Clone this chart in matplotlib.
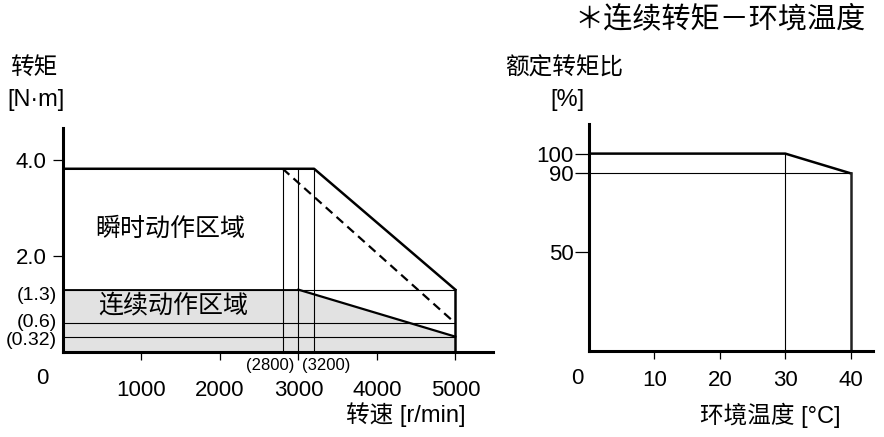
import matplotlib
matplotlib.use("Agg")
import matplotlib.pyplot as plt
from matplotlib.transforms import ScaledTranslation, blended_transform_factory

plt.rcParams['font.family'] = ['Liberation Sans', 'Noto Sans CJK SC']

# ---- data: speed-torque chart ----
peak_speed = [0, 3200, 5000]
peak_torque = [3.82, 3.82, 1.3]
dash_speed = [2800, 5000]
dash_torque = [3.82, 0.6]
cont_speed = [0, 3000, 5000]
cont_torque = [1.3, 1.3, 0.32]
ref_speeds = [2800, 3000, 3200]
ref_torques = [1.3, 0.6, 0.32]
speed_ticks = [1000, 2000, 3000, 4000, 5000]
torque_ticks = [2.0, 4.0]
torque_minor_labels = ['(1.3)', '(0.6)', '(0.32)']

# ---- data: torque ratio vs ambient temperature ----
temp = [0, 30, 40]
ratio = [100, 100, 90]
temp_ticks = [10, 20, 30, 40]
ratio_ticks = [50, 90, 100]

W, H = 884, 437
fig = plt.figure(figsize=(W / 100, H / 100), dpi=100)


def px(x, y):
    return x / W, 1 - y / H


def style_axes(ax):
    for s in ['top', 'right']:
        ax.spines[s].set_visible(False)
    for s in ['left', 'bottom']:
        ax.spines[s].set_linewidth(2.2)
    ax.tick_params(which='both', width=0.9, color='black', labelsize=16)


# ================= left chart =================
ax1 = fig.add_axes([63 / W, 1 - 352 / H, 430 / W, 224 / H])
style_axes(ax1)
ax1.set_xlim(0, 5480)
ax1.set_ylim(0, 4.67)

ax1.fill_between(cont_speed, cont_torque, 0, color='#e2e2e2', lw=0)
for t in ref_torques:
    ax1.plot([0, peak_speed[-1]], [t, t], color='black', lw=0.8)
for s in ref_speeds:
    ax1.plot([s, s], [0, peak_torque[0]], color='black', lw=0.8)
ax1.plot(cont_speed[:2], cont_torque[:2], color='black', lw=1.3)
ax1.plot(peak_speed, peak_torque, color='black', lw=1.8)
ax1.plot([peak_speed[-1], peak_speed[-1]], [0, peak_torque[-1]], color='black', lw=1.8)
ax1.plot(dash_speed, dash_torque, color='black', lw=1.6, ls=(0, (4, 2.5)))
ax1.plot(cont_speed[1:], cont_torque[1:], color='black', lw=1.6)

ax1.set_xticks(speed_ticks)
ax1.set_xticklabels([str(v) for v in speed_ticks])
ax1.tick_params(axis='x', length=6, pad=14)
ax1.set_yticks(torque_ticks)
ax1.set_yticklabels(['2.0', '4.0'])
ax1.tick_params(axis='y', which='major', length=7, pad=5)

# parenthesised torque labels, nudged apart like the original
ytrans = blended_transform_factory(ax1.transAxes, ax1.transData)
nudges = [-6, 1, -4]  # pixels (down negative)
for t, lab, dy in zip(ref_torques, torque_minor_labels, nudges):
    ax1.text(-0.014, t, lab, fontsize=14, ha='right', va='center',
             transform=ytrans + ScaledTranslation(0, dy / 100, fig.dpi_scale_trans))

ax1.text(1370, 2.56, '瞬时动作区域', fontsize=18, ha='center', va='center')
ax1.text(1400, 0.96, '连续动作区域', fontsize=18, ha='center', va='center')
ax1.text(2950, -0.29, '(2800)', fontsize=12, ha='right', va='center')
ax1.text(3050, -0.29, '(3200)', fontsize=12, ha='left', va='center')

fig.text(*px(42, 378), '0', fontsize=16, ha='center', va='center')
fig.text(*px(10, 68), '转矩', fontsize=17, ha='left', va='center')
fig.text(*px(7, 100), '[N·m]', fontsize=17, ha='left', va='center')
fig.text(*px(465, 415), '转速 [r/min]', fontsize=17, ha='right', va='center')

# ================= right chart =================
ax2 = fig.add_axes([589 / W, 1 - 351 / H, 284 / W, 227 / H])
style_axes(ax2)
ax2.set_xlim(0, 43.4)
ax2.set_ylim(0, 115)

ax2.plot([0, temp[-1]], [ratio[-1], ratio[-1]], color='black', lw=0.8)
ax2.plot([temp[1], temp[1]], [0, ratio[1]], color='black', lw=0.8)
ax2.plot(temp, ratio, color='black', lw=1.8)
ax2.plot([temp[-1], temp[-1]], [0, ratio[-1]], color='#222222', lw=1.8)

ax2.set_xticks(temp_ticks)
ax2.set_xticklabels([str(v) for v in temp_ticks])
ax2.tick_params(axis='x', length=6, pad=8)
ax2.set_yticks(ratio_ticks)
ax2.set_yticklabels([str(v) for v in ratio_ticks])
ax2.tick_params(axis='y', length=10, pad=1)

fig.text(*px(577, 378), '0', fontsize=16, ha='center', va='center')
fig.text(*px(505, 68), '额定转矩比', fontsize=17, ha='left', va='center')
fig.text(*px(550, 100), '[%]', fontsize=17, ha='left', va='center')
fig.text(*px(840, 415), '环境温度 [°C]', fontsize=17, ha='right', va='center')

fig.text(*px(866, 19), '＊连续转矩－环境温度', fontsize=21, ha='right', va='center')

fig.savefig('out.png', dpi=100)
